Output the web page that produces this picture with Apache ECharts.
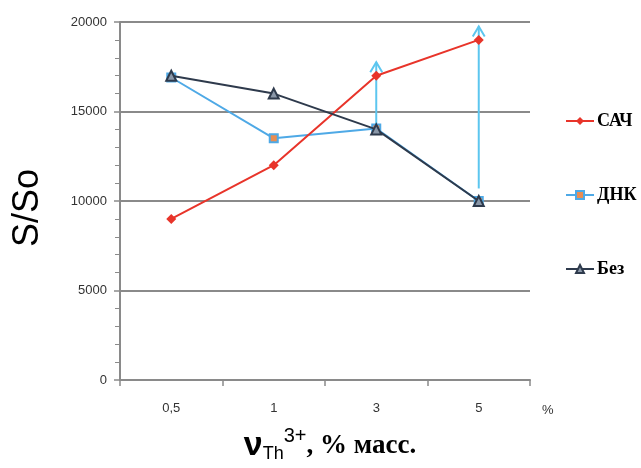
<!DOCTYPE html>
<html>
<head>
<meta charset="utf-8">
<script src="https://cdn.jsdelivr.net/npm/echarts@6/dist/echarts.min.js"></script>
<style>
  html, body { margin: 0; padding: 0; background: #fff; }
  #chart { width: 641px; height: 468px; }
</style>
</head>
<body>
<div id="chart"></div>
<script>
// Concentration categories (x axis)
const categories = ['0,5', '1', '3', '5'];

// S/So for each sample series
const sachValues = [9000, 12000, 17000, 19000];
const dnkValues = [16900, 13500, 14050, 10000];
const bezValues = [17000, 16000, 14000, 10000];

// Upward arrows on the ДНК series: [category index, from, to]
const dnkArrows = [
  [2, 14050, 17750],
  [3, 10700, 19750]
];

const yTicks = { min: 0, max: 20000, interval: 5000 };

const labelFont = "'Liberation Sans Narrow', 'Liberation Sans', Arial, sans-serif";
const sans = "'Liberation Sans', Arial, sans-serif";
const serif = "'Liberation Serif', 'Times New Roman', serif";

const chart = echarts.init(document.getElementById('chart'));

chart.setOption({
  animation: false,
  backgroundColor: '#ffffff',
  grid: { left: 120, right: 111, top: 22, bottom: 88, containLabel: false },
  legend: {
    orient: 'vertical',
    left: 560,
    top: 107,
    itemGap: 56,
    itemWidth: 28,
    itemHeight: 10,
    textStyle: { fontFamily: serif, fontWeight: 'bold', fontSize: 18, color: '#000', padding: [0, 0, 0, -2] },
    data: ['САЧ', 'ДНК', 'Без']
  },
  xAxis: {
    type: 'category',
    data: categories,
    boundaryGap: true,
    name: '%',
    nameLocation: 'end',
    nameGap: 12,
    nameTextStyle: { fontFamily: labelFont, fontSize: 13, color: '#333', verticalAlign: 'top', padding: [24, 0, 0, 0] },
    axisLine: { lineStyle: { color: '#8a8a8a', width: 2 } },
    axisTick: { show: true, length: 6, inside: false, lineStyle: { color: '#8a8a8a', width: 1.5 } },
    axisLabel: { fontFamily: labelFont, fontSize: 13, color: '#333', margin: 22 },
    splitLine: { show: false }
  },
  yAxis: {
    type: 'value',
    min: yTicks.min,
    max: yTicks.max,
    interval: yTicks.interval,
    axisLine: { show: true, lineStyle: { color: '#8a8a8a', width: 2 } },
    axisTick: { show: true, length: 6, lineStyle: { color: '#8a8a8a', width: 1.5 } },
    minorTick: { show: true, splitNumber: 5, length: 5, lineStyle: { color: '#8a8a8a', width: 1 } },
    axisLabel: { fontFamily: labelFont, fontSize: 13, color: '#333', margin: 13, formatter: function (v) { return String(v); } },
    splitLine: { show: true, lineStyle: { color: '#8a8a8a', width: 2 } }
  },
  graphic: [
    {
      type: 'text',
      x: 28,
      y: 208,
      rotation: Math.PI / 2,
      style: {
        text: 'S/So',
        font: "normal 36px " + sans,
        fill: '#000',
        align: 'center',
        verticalAlign: 'middle'
      }
    },
    {
      type: 'text',
      x: 330,
      y: 446,
      style: {
        text: '{nu|ν}{sub|Th}{sup|3+}{main|, % масс.}',
        align: 'center',
        verticalAlign: 'middle',
        rich: {
          nu: { font: "bold 34px " + sans, fill: '#000' },
          sub: { font: "normal 18px " + sans, fill: '#000', padding: [16, 0, 0, 0] },
          sup: { font: "normal 20px " + sans, fill: '#000', padding: [0, 0, 20, 0] },
          main: { font: "bold 27px " + serif, fill: '#000' }
        }
      }
    }
  ],
  series: [
    {
      name: 'САЧ',
      type: 'line',
      data: sachValues,
      color: '#e8342a',
      lineStyle: { color: '#e8342a', width: 2 },
      symbol: 'diamond',
      symbolSize: 10,
      itemStyle: { color: '#e8342a' },
      z: 4
    },
    {
      name: 'ДНК',
      type: 'line',
      data: dnkValues,
      color: '#4ea9e6',
      lineStyle: { color: '#4ea9e6', width: 2 },
      symbol: 'rect',
      symbolSize: 8,
      itemStyle: { color: '#e98d52', borderColor: '#4ea9e6', borderWidth: 2 },
      z: 3
    },
    {
      name: 'Без',
      type: 'line',
      data: bezValues,
      color: '#2e3a4c',
      lineStyle: { color: '#2e3a4c', width: 2 },
      symbol: 'triangle',
      symbolSize: 10,
      itemStyle: { color: '#8a97a8', borderColor: '#2e3a4c', borderWidth: 2 },
      z: 5
    },
    {
      name: 'arrows',
      type: 'custom',
      data: dnkArrows,
      z: 2,
      silent: true,
      renderItem: function (params, api) {
        const p0 = api.coord([api.value(0), api.value(1)]);
        const p1 = api.coord([api.value(0), api.value(2)]);
        const stroke = '#5cc6ef';
        return {
          type: 'group',
          children: [
            {
              type: 'line',
              shape: { x1: p0[0], y1: p0[1], x2: p1[0], y2: p1[1] },
              style: { stroke: stroke, lineWidth: 2 }
            },
            {
              type: 'polyline',
              shape: { points: [[p1[0] - 6, p1[1] + 10], [p1[0], p1[1]], [p1[0] + 6, p1[1] + 10]] },
              style: { stroke: stroke, lineWidth: 2, fill: null }
            }
          ]
        };
      }
    }
  ]
});
</script>
</body>
</html>
